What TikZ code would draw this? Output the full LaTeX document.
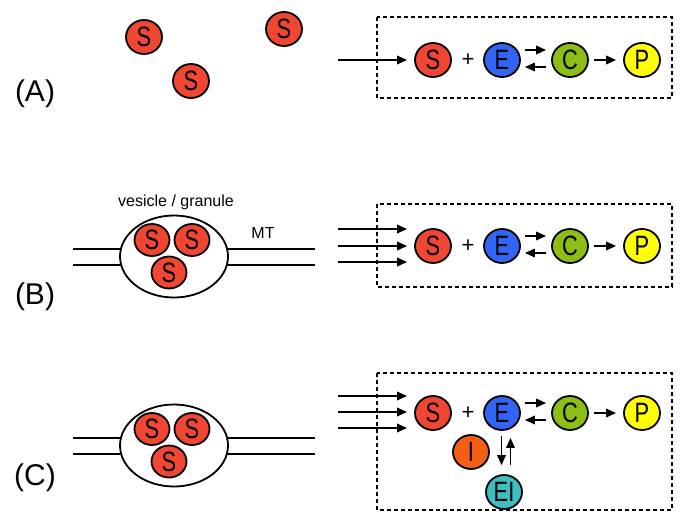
\documentclass[tikz,border=0pt]{standalone}
\usepackage{fontspec}
\setmainfont{Liberation Sans}
\newfontfamily\molfont[FakeStretch=0.78]{Liberation Sans}
\usetikzlibrary{shapes, arrows.meta, positioning}

\definecolor{sred}{RGB}{240,70,50}
\definecolor{eblue}{RGB}{50,100,245}
\definecolor{cgreen}{RGB}{140,190,20}
\definecolor{pyellow}{RGB}{255,255,0}
\definecolor{iorange}{RGB}{245,95,20}
\definecolor{eiteal}{RGB}{60,190,195}

\begin{document}
\begin{tikzpicture}[x=1pt,y=-1pt,
  mol/.style={ellipse, draw, line width=1.8pt, minimum width=36pt, minimum height=34pt,
    inner sep=0pt, font=\molfont\fontsize{28}{28}\selectfont},
  vesicle/.style={ellipse, draw, line width=1.8pt, fill=white, minimum width=108pt, minimum height=82pt},
  tube/.style={line width=2pt},
  panelbox/.style={draw, line width=1.5pt, dash pattern=on 4pt off 3pt},
  arr/.style={line width=1.8pt, -{Triangle[length=10pt,width=8.5pt]}},
  lbl/.style={font=\fontsize{30}{30}\selectfont},
  txt/.style={font=\fontsize{16}{16}\selectfont}]
  \useasboundingbox (0,0) rectangle (685,528);

  % Label panel
  \node[lbl] (labA) at (35,94) {(A)};
  \node[lbl] (labB) at (35,297) {(B)};
  \node[lbl] (labC) at (35,478) {(C)};

  % Substrat bebas
  \node[mol, fill=sred] (s1) at (144,37) {S};
  \node[mol, fill=sred] (s2) at (284,29) {S};
  \node[mol, fill=sred] (s3) at (191,81) {S};

  % Kotak reaksi
  \draw[panelbox] (377,17) rectangle (672,98);
  \draw[panelbox] (377,204) rectangle (672,287);
  \draw[panelbox] (377,373) rectangle (672,510);

  % Baris reaksi S + E <-> C -> P
  \foreach \p/\y in {A/60,B/246,C/413} {
    \node[mol, fill=sred] (s\p) at (433,\y) {S};
    \node[font=\fontsize{22}{22}\selectfont] (plus\p) at (468,\y) {+};
    \node[mol, fill=eblue] (e\p) at (502,\y) {E};
    \node[mol, fill=cgreen] (c\p) at (570,\y) {C};
    \node[mol, fill=pyellow] (p\p) at (642,\y) {P};
    \draw[arr] ([xshift=4pt,yshift=10pt]e\p.east) -- ([xshift=-5pt,yshift=10pt]c\p.west);
    \draw[arr] ([xshift=-5pt,yshift=-7pt]c\p.west) -- ([xshift=4pt,yshift=-7pt]e\p.east);
    \draw[arr] ([xshift=5pt]c\p.east) -- ([xshift=-7pt]p\p.west);
  }

  % Panah masuk
  \coordinate (inA) at (338,60);
  \draw[arr, shorten >=7pt] (inA) -- (sA.west |- inA);
  \foreach \yy [count=\i] in {229,246,262} {
    \coordinate (inB\i) at (338,\yy);
    \draw[arr, shorten >=7pt] (inB\i) -- (sB.west |- inB\i);
  }
  \foreach \yy [count=\i] in {396,412,428} {
    \coordinate (inC\i) at (338,\yy);
    \draw[arr, shorten >=7pt] (inC\i) -- (sC.west |- inC\i);
  }

  % Vesikel pada MT
  \foreach \p/\y in {B/256.5,C/445.5} {
    \draw[tube] (73,\y-8) -- (315,\y-8);
    \draw[tube] (73,\y+8) -- (315,\y+8);
    \node[vesicle] (ves\p) at (174,\y) {};
    \node[mol, fill=sred, minimum width=35pt, minimum height=32pt] (v\p1) at (152,\y-16.5) {S};
    \node[mol, fill=sred, minimum width=35pt, minimum height=32pt] (v\p2) at (192,\y-16.5) {S};
    \node[mol, fill=sred, minimum width=35pt, minimum height=32pt] (v\p3) at (169,\y+16) {S};
  }
  \node[txt] (vesLbl) at (176,202) {vesicle / granule};
  \node[txt] (mtLbl) at (263,233) {MT};

  % Inhibitor
  \node[mol, fill=iorange] (iC) at (471,452) {I};
  \node[mol, fill=eiteal] (eiC) at (504,492) {EI};
  \draw[arr] ([xshift=-0.5pt,yshift=-5pt]eC.south) -- ([xshift=-2.5pt,yshift=9pt]eiC.north);
  \draw[arr] ([xshift=6.5pt,yshift=9pt]eiC.north) -- ([xshift=8.5pt,yshift=-7pt]eC.south);
\end{tikzpicture}
\end{document}
